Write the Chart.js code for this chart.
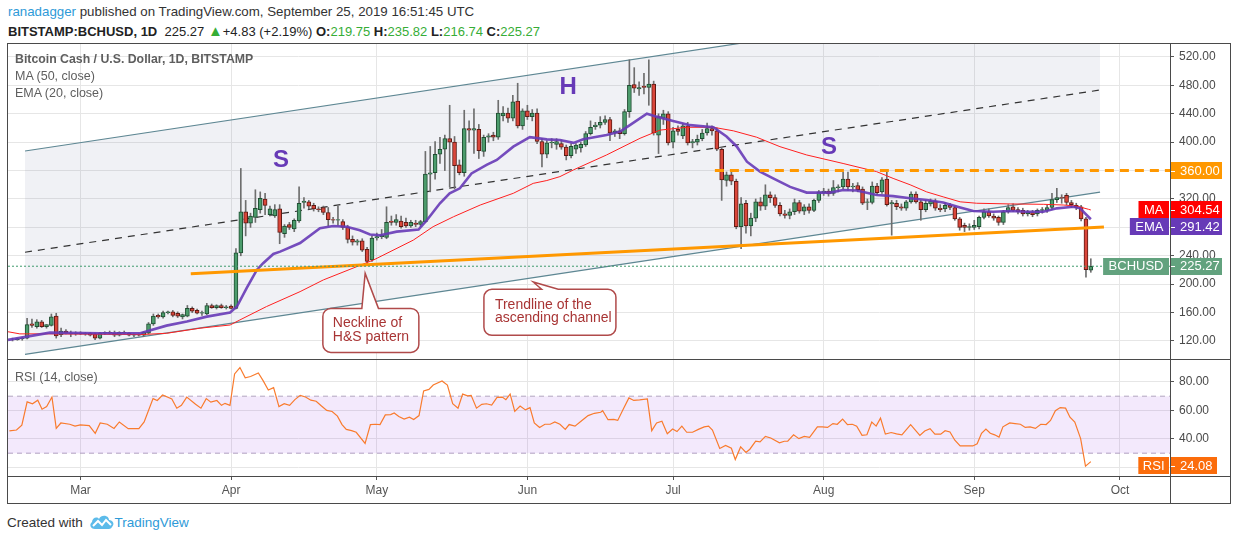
<!DOCTYPE html>
<html><head><meta charset="utf-8">
<script src="https://cdn.jsdelivr.net/npm/chart.js@4.4.1/dist/chart.umd.min.js"></script>
<style>
html,body{margin:0;padding:0;background:#fff;width:1234px;height:540px;overflow:hidden;font-family:"Liberation Sans",Arial,sans-serif;}
#wrap{position:relative;width:1234px;height:540px;}
.t{position:absolute;white-space:nowrap;}
.ln{position:absolute;background:#4a4a4a;}
canvas{position:absolute;}
.g{color:#36ad36;}
</style></head>
<body><div id="wrap">
<div class="t" style="left:8px;top:4px;font-size:13.3px;color:#333;"><span style="color:#2e9ad8">ranadagger</span> published on TradingView.com, September 25, 2019 16:51:45 UTC</div>
<div class="t" id="hdr2" style="left:8px;top:22px;font-size:13px;color:#222;"></div>
<canvas id="pc" width="1222" height="315" style="left:8px;top:44px;"></canvas>
<canvas id="rc" width="1222" height="143" style="left:8px;top:360px;"></canvas>
<div class="ln" style="left:7px;top:43px;width:1224px;height:1px;"></div>
<div class="ln" style="left:7px;top:503px;width:1224px;height:1px;"></div>
<div class="ln" style="left:7px;top:43px;width:1px;height:461px;"></div>
<div class="ln" style="left:1230px;top:43px;width:1px;height:461px;"></div>
<div class="ln" style="left:1170px;top:43px;width:1px;height:461px;"></div>
<div class="ln" style="left:7px;top:359px;width:1224px;height:1px;"></div>
<div class="ln" style="left:7px;top:476px;width:1224px;height:1px;"></div>
<div class="t" style="left:15px;top:52px;font-size:12.3px;color:#5e5e5e;font-weight:bold;">Bitcoin Cash / U.S. Dollar, 1D, BITSTAMP</div>
<div class="t" style="left:15px;top:69px;font-size:12.5px;color:#5e5e5e;">MA (50, close)</div>
<div class="t" style="left:15px;top:86px;font-size:12.5px;color:#5e5e5e;">EMA (20, close)</div>
<div class="t" style="left:15px;top:370px;font-size:12.5px;color:#5e5e5e;">RSI (14, close)</div>
<div class="t" style="left:7px;top:514px;font-size:13.5px;color:#333;">Created with
<svg width="26" height="16" viewBox="0 0 26 16" style="vertical-align:-3px;margin-left:2px"><path d="M6 15 C1 15 0 10 3 8 C3 4 8 2 10 5 C12 0 20 1 20 6 C24 6 26 10 23 13 C22 15 20 15 19 15 Z" fill="#5cbbea"/><path d="M4 12 L9 7 L13 11 L17 6 L22 11" stroke="#fff" stroke-width="2" fill="none"/></svg><span style="color:#2e9ad8">TradingView</span></div>
</div>
<script>
// ---------- DATA ----------
const startDate = '2019-02-15';
const opens = [122,122,123,124,144,140,147,140,142,155,129,134,131,130,131,130,131,130,124,131,
132,131,128,132,131,128,129,128,131,144,156,154,160,161,159,154,155,166,163,159,
158,170,167,170,167,169,166,244,302,286,294,305,320,298,296,306,271,284,278,289,
315,316,311,306,308,301,291,290,288,280,263,259,261,249,234,265,267,266,289,287,
289,287,282,286,284,288,355,357,383,390,405,400,368,357,419,417,418,387,407,410,
407,437,441,434,458,423,444,436,441,401,383,399,397,398,393,381,390,392,396,412,
422,424,428,432,413,416,412,443,481,475,479,477,482,410,434,440,400,418,409,423,
399,400,405,413,419,416,390,346,354,345,281,314,282,293,316,310,326,322,311,299,
297,302,315,303,309,304,318,329,331,328,336,337,348,337,339,334,315,315,338,330,
348,313,314,309,307,316,327,316,305,313,317,307,306,311,308,292,283,280,280,281,
294,302,296,294,287,302,309,305,304,299,301,299,304,304,308,319,322,325,315,311,
309,292,219.75];
const highs = [124,124,125,152,151,150,149,143,158,159,138,136,134,133,133,132,132,131,132,133,
134,134,133,134,132,130,130,133,146,158,158,162,162,163,161,158,170,168,165,162,
173,172,171,172,170,171,250,363,318,300,333,330,328,310,312,312,284,287,292,337,
322,318,314,309,310,308,294,310,291,283,268,263,264,252,268,272,277,309,296,298,
296,293,290,290,290,387,394,401,407,410,452,408,375,445,430,447,425,410,412,414,
459,450,448,466,483,447,452,446,447,405,402,405,405,403,396,398,398,400,415,430,
428,436,437,435,418,420,446,516,505,485,497,516,486,440,445,443,421,423,426,428,
404,410,418,427,423,420,392,358,360,348,322,318,300,320,322,340,330,326,315,304,
306,320,318,312,313,320,332,335,334,346,340,358,358,342,343,337,320,344,342,350,
358,318,318,313,318,330,330,318,318,320,320,312,315,314,310,294,286,285,290,296,
306,306,299,296,304,312,313,308,307,304,304,306,308,311,328,335,326,328,318,314,
311,294,235.82];
const lows = [120,121,121,123,139,138,139,138,141,124,126,130,126,128,129,128,127,122,123,129,
130,126,127,130,127,126,127,126,130,142,152,152,158,154,153,151,154,160,158,156,
157,166,165,166,165,165,165,240,268,280,287,300,298,296,294,257,266,277,274,287,
307,306,303,302,298,282,286,283,277,258,255,255,246,229,232,262,264,264,283,283,
279,280,280,281,281,287,330,348,370,360,337,334,354,352,400,384,377,380,400,402,
404,430,428,430,420,418,432,430,398,365,378,392,390,390,375,378,384,386,394,410,
418,420,425,402,408,405,410,435,470,466,468,452,410,384,425,396,392,410,405,396,
392,396,402,410,410,388,318,338,340,278,250,272,268,288,304,305,315,308,296,293,
292,298,300,298,300,302,315,325,324,325,330,334,332,330,330,312,305,313,326,328,
310,269,305,304,304,314,314,290,302,310,304,302,302,305,290,276,274,276,277,278,
292,294,290,283,284,300,302,299,296,296,295,296,300,301,305,315,314,312,308,305,
289,210,216.74];
const closes = [122,123,124,143,142,147,140,143,154,127,134,131,130,131,130,131,128,124,131,132,
131,128,132,131,128,129,128,132,144,155,154,160,161,156,155,157,166,162,159,160,
170,167,170,167,168,166,244,302,286,296,307,321,311,306,305,273,282,280,290,314,
317,310,306,305,301,291,290,291,280,263,259,261,248,232,265,267,269,287,287,291,
281,282,287,284,288,355,357,383,390,405,400,367,357,419,417,419,388,407,409,407,
441,441,434,457,423,444,436,441,401,383,399,400,401,393,381,394,396,397,412,421,
424,428,432,413,416,412,443,480,476,477,477,482,413,436,440,399,416,415,423,399,
401,404,413,419,416,390,347,354,345,281,313,282,293,316,310,326,322,311,299,297,
302,315,303,309,304,318,330,331,327,336,337,348,337,338,333,314,316,338,329,347,
312,315,309,307,316,327,316,305,314,317,307,305,311,308,292,280,280,281,283,294,
302,296,293,287,302,308,304,302,299,302,298,304,305,308,319,322,321,315,312,308,
292,220.44,225.27];

// MA(50) and EMA(20) (x = day index from first candle)
const maX = [-0.93,1.5,7.7,26.3,31.7,38.6,44.8,46.8,52.3,59.2,64,74.3,82.5,86.6,90.8,96.3,103.1,107.2,110,112.7,
115.5,122.3,129.2,133.3,138.8,144.3,148.4,153.2,158,163.5,171,177.9,181.3,184.8,188.2,191.6,195.1,198.5,205.4,212.2,
216.3,219.1,221.5,222];
const maY = [133,130,130,129,130.8,138,142.5,149.6,168.5,189.5,206,234,262,281,295,311.5,328,342,346,351.5,
361,382,405.5,417,421,421,416,407,393.7,382,370,358.5,349,340,330,323,316,314,313,312.5,
311.5,310,305.5,304.54];
const emaX = [-0.93,7.7,18,26.3,31.7,35.9,40,44.8,46.2,48.2,50.3,51.6,53.7,55.1,59.2,63.3,66,68.8,71.5,73.6,
75.7,79.1,83.6,85.3,88,90,92.1,94.5,97.6,99.7,103.1,106.5,110,112.7,115.5,117.5,122.3,125.1,127.1,130.6,
132.6,136,139.5,144.3,147,149.1,151.2,153.9,156.6,160.1,163.5,168.3,171,173.8,177.9,181.3,184.8,188.2,191.6,195.1,
197.8,201.9,205.4,208.8,212.2,215,218.4,219.8,222];
const emaY = [121.5,131.7,130.8,130.8,141.6,147.3,154.3,160,168.5,194.5,220,229.5,242.5,245.8,258,278.7,282,281,276,270,
269,274,277,290,314,328,335,356,368,375,393.7,407,404,403,399,404,410,415,424,440,
436,430,424,421,408,394,372.5,358.5,349,337,329,329,332.7,332,325.6,324,321,318.6,315,308,
303,302,303,302,302,306.8,309,306.8,291.42];

// RSI(14)
const rsiX = [-0.64,0.82,1.92,3.01,4.11,5.2,6.08,7.03,8.12,9,9.95,11.77,12.87,13.96,15.79,17.03,18.05,19.51,20.9,21.99,
23.82,26.01,27.1,28.93,29.8,30.9,32.8,33.82,34.77,35.87,37.69,38.79,39.88,40.83,42.07,43.02,43.75,44.77,45.72,46.82,
47.91,49.01,50.61,51.56,52.66,53.75,54.85,55.94,57.04,58.13,59.23,60.32,61.42,62.51,63.61,64.7,65.8,66.89,67.84,68.72,
69.81,70.76,72.59,73.68,74.71,75.66,76.75,77.85,78.58,79.53,80.62,81.71,82.59,83.69,84.64,85.73,86.61,88.43,89.53,90.62,
91.72,92.67,93.69,94.42,95.52,96.61,97.56,98.65,99.75,100.84,101.57,102.45,103.4,104.5,105.59,106.54,107.42,108.51,109.61,110.7,
111.65,112.7,113.8,114.6,115.8,117.1,118.5,119.8,121.1,121.5,122.6,123.8,124.6,125.8,126.9,127.9,129.1,130.7,131.6,132.6,
133.7,134.8,135.9,136.8,137.8,138.8,140,141.2,142.4,143.3,144.1,145.6,146.8,148,148.8,149.9,151,151.8,153,153.9,
155,156.1,157.9,158.9,159.6,160.8,161.9,163,164.1,165.7,166.7,167.8,168.9,169.8,170.9,171.9,172.9,173.8,174.9,175.9,
176.9,177.8,178.7,179.7,180.9,182,183.1,184.9,186.8,187.8,188.9,189.9,191.1,192,193,194,195.1,196.4,197.7,198.6,
199.5,200.4,201.3,202.2,203.1,203.9,205.3,206.4,207.5,208.5,209.5,210.6,211.7,212.8,213.7,214.7,215.7,216.8,217.7,218.7,
219.9,220.9,222];
const rsiY = [45.6,46.3,49.7,66,64.7,67.2,60.9,62.7,69.4,47.4,51.2,50.3,49,49.9,49.4,44,51.2,50.3,47.4,51.9,
47.2,47.2,51.9,68.3,67,70.8,68,61.6,63.6,69.4,64.3,61.6,68.3,65.8,67,63.6,65,63.6,85.6,90.1,
82.9,83.8,86.3,81.1,74.4,76,62.7,64.7,63.6,67.6,70.6,69.4,67.2,66.5,63.1,60,59.3,56,50.1,46.7,
45.8,44.7,36.9,50.1,50.3,50.1,56.9,57.1,58.2,55.7,53.9,55.3,53.7,56.4,73.7,74.8,77.8,80.7,77.8,64.7,
61.6,71.5,70.3,70.6,61.6,64.3,64.7,63.8,69.2,69.4,67.6,71.5,59.3,63.1,60.4,62,51.2,48.1,50.3,50.3,
51.9,50.3,46.7,50.1,49,52.6,56.4,58,58.7,59.8,53.5,53.7,53,61.3,68.8,67,67.4,68.1,45.8,51.2,
52.4,43.6,47,45.2,49,44.7,44.7,46.7,48.5,49,46.3,33.3,35.5,33.5,25.6,34.4,30.6,32.8,38.4,38,
41.8,40.7,37.3,38.4,38.4,42.9,40.2,41.8,41.1,48.5,48.5,48.1,50.8,50.3,53.9,50.1,50.3,49,42.5,42.9,
51.9,49,54.6,43.4,44.5,43.6,42.9,50.1,42.5,45.6,47.2,43.4,43.4,45.8,44.9,39.1,35.1,35.1,35.1,36.6,
44,47,44,42.9,41.3,48.5,51.2,50.8,50.3,48.1,48.5,47.4,50.3,50.1,53,59.8,62,61.6,55.3,51.9,
40.2,20.9,24.08];

// Axis ticks / labels
const monthTicks = [14,45,75,106,136,167,198,228];
const monthLabels = ['Mar','Apr','May','Jun','Jul','Aug','Sep','Oct'];
const priceTicks = [120,160,200,240,280,320,360,400,440,480,520];
const rsiTicks = [20,40,60,80];

// Drawn annotations (in data units: day index, price)
const channelLower = [[2.57,101],[223.9,329.7]];
const channelUpper = [[2.57,387.6],[223.9,615.6]];
const channelMid = [[2.57,245],[223.9,473.5]];
const neckline = [[36.7,214.8],[224.7,280.6]];
const resistanceLevel = 360;
const resistanceStart = 144.6;
const patternLabels = [['S',55.3,374.9],['H',114.4,477.7],['S',168.1,392]];
const calloutTips = [[72.6,215.2],[107.2,203.1]];
const calloutTexts = [['Neckline of','H&S pattern'],['Trendline of the','ascending channel']];

// ---------- LAYOUT / STYLE ----------
const FONT = '"Liberation Sans", Arial, sans-serif';
const X_MIN = -0.93, X_MAX = 238.3;
const UP = '#4c9c6c', UP_B = '#1f4d31', DN = '#d9463a', DN_B = '#5e1a14', WICK = '#6e6e6e';
const GRID = '#e6e6e6';
const N = closes.length;
const last = N - 1;
const chg = closes[last] - closes[last-1];

document.getElementById('hdr2').innerHTML =
  '<b>BITSTAMP:BCHUSD, 1D</b>&nbsp; ' + closes[last].toFixed(2) +
  ' <span class="g" style="font-size:15px">&#9650;</span>+' + chg.toFixed(2) + ' (+' + (chg/closes[last-1]*100).toFixed(2) + '%)' +
  ' <b>O:</b><span class="g">' + opens[last].toFixed(2) + '</span>' +
  ' <b>H:</b><span class="g">' + highs[last].toFixed(2) + '</span>' +
  ' <b>L:</b><span class="g">' + lows[last].toFixed(2) + '</span>' +
  ' <b>C:</b><span class="g">' + closes[last].toFixed(2) + '</span>';

const pts = (xs, ys) => xs.map((x,k)=>({x:x, y:ys[k]}));
const pair = a => a.map(p=>({x:p[0], y:p[1]}));
const idx = closes.map((_,k)=>k);
const isUp = k => closes[k] >= opens[k];

function drawAxisTags(chart, items){
  const ctx = chart.ctx, ys = chart.scales.y, ca = chart.chartArea, H = 17;
  const arr = items.map(it=>Object.assign({}, it, {py: ys.getPixelForValue(it.value)})).sort((a,b)=>a.py-b.py);
  for (let k=1;k<arr.length;k++) if (arr[k].py - arr[k-1].py < H) arr[k].py = arr[k-1].py + H;
  ctx.save();
  ctx.font = '13px ' + FONT; ctx.textBaseline = 'middle';
  arr.forEach(it=>{
    const top = Math.round(it.py - H/2);
    ctx.fillStyle = it.color; ctx.fillRect(ca.right+1, top, 51, H);
    ctx.fillStyle = '#fff'; ctx.fillRect(ca.right+1, Math.round(it.py), 4, 1);
    ctx.textAlign = 'left'; ctx.fillText(it.text, ca.right+10, it.py+0.5);
    if (it.tag){
      const w = ctx.measureText(it.tag).width + 12;
      ctx.fillStyle = it.color; ctx.fillRect(ca.right - w, top, w - 1, H);
      ctx.fillStyle = '#fff'; ctx.textAlign = 'center'; ctx.fillText(it.tag, ca.right - w/2 - 0.5, it.py+0.5);
    }
  });
  ctx.restore();
}

const pricePlugin = {
  id: 'priceExtras',
  afterDatasetsDraw(chart){
    const ctx = chart.ctx, xs = chart.scales.x, ys = chart.scales.y;
    ctx.save();
    ctx.font = 'bold 24px ' + FONT; ctx.fillStyle = '#673ab7'; ctx.textAlign='center'; ctx.textBaseline='middle';
    patternLabels.forEach(l=>ctx.fillText(l[0], xs.getPixelForValue(l[1]), ys.getPixelForValue(l[2])));
    const boxes = [{dx:-42.3, dy:35, w:96, h:44, b1:-3.3, b2:13.3, tx:10, ty:[14.5,28.5]},
                   {dx:-49.3, dy:7.3, w:132, h:46, b1:8.4, b2:25, tx:11, ty:[15.5,28.5]}];
    calloutTips.forEach((tp,k)=>{
      const b = boxes[k];
      const tx = xs.getPixelForValue(tp[0]), ty = ys.getPixelForValue(tp[1]);
      const bx = tx + b.dx, by = ty + b.dy, r = 8;
      ctx.beginPath();
      ctx.moveTo(bx + r, by); ctx.lineTo(tx + b.b1, by); ctx.lineTo(tx, ty); ctx.lineTo(tx + b.b2, by);
      ctx.arcTo(bx+b.w, by, bx+b.w, by+b.h, r); ctx.arcTo(bx+b.w, by+b.h, bx, by+b.h, r);
      ctx.arcTo(bx, by+b.h, bx, by, r); ctx.arcTo(bx, by, bx+b.w, by, r); ctx.closePath();
      ctx.fillStyle = '#fff'; ctx.fill();
      ctx.strokeStyle = '#b04a4a'; ctx.lineWidth = 1.5; ctx.stroke();
      ctx.fillStyle = '#a83434'; ctx.font = '14px ' + FONT; ctx.textAlign='left'; ctx.textBaseline='middle';
      calloutTexts[k].forEach((s,j)=>ctx.fillText(s, bx + b.tx, by + b.ty[j]));
    });
    ctx.restore();
  },
  afterDraw(chart){
    drawAxisTags(chart, [
      {value: resistanceLevel, text: resistanceLevel.toFixed(2), color:'#ff9800'},
      {value: maY[maY.length-1], text: maY[maY.length-1].toFixed(2), tag:'MA', color:'#ff0000'},
      {value: emaY[emaY.length-1], text: emaY[emaY.length-1].toFixed(2), tag:'EMA', color:'#673ab7'},
      {value: closes[last], text: closes[last].toFixed(2), tag:'BCHUSD', color:'#62a27e'}
    ]);
  }
};

const lineDS = (data, color, width, extra) => Object.assign({type:'line', data, borderColor:color, borderWidth:width,
  pointRadius:0, pointHoverRadius:0, fill:false, tension:0}, extra||{});

new Chart(document.getElementById('pc'), {
  type: 'bar',
  data: { datasets: [
    lineDS(pair(channelLower), '#5e8793', 1.2, {order:19}),
    lineDS(pair(channelUpper), '#5e8793', 1.2, {order:20, fill:'-1', backgroundColor:'rgba(120,130,160,0.11)'}),
    lineDS(pair(channelMid), '#333', 1.2, {order:18, borderDash:[7,6]}),
    {type:'bar', data: idx.map(k=>({x:k, y:[lows[k], highs[k]]})), backgroundColor: WICK, barThickness:1, grouped:false, order:6},
    {type:'bar', data: idx.map(k=>({x:k, y:[opens[k], closes[k]]})),
      backgroundColor: c => isUp(c.dataIndex) ? UP : DN,
      borderColor: c => isUp(c.dataIndex) ? UP_B : DN_B,
      borderWidth:1, borderSkipped:false, barThickness:4, grouped:false, order:5},
    lineDS(pts(maX, maY), '#ff2020', 1, {order:3}),
    lineDS(pts(emaX, emaY), 'rgba(103,58,183,0.9)', 2.6, {order:2}),
    lineDS(pair(neckline), '#ff9800', 3, {order:1}),
    lineDS([{x:resistanceStart,y:resistanceLevel},{x:X_MAX,y:resistanceLevel}], '#ff9800', 3, {order:1, borderDash:[9,6]}),
    lineDS([{x:X_MIN,y:closes[last]},{x:X_MAX,y:closes[last]}], '#3f9a6c', 1, {order:0, borderDash:[2,2]})
  ]},
  options: {
    responsive:false, animation:false, events:[],
    layout:{padding:0},
    plugins:{legend:{display:false}, tooltip:{enabled:false}},
    scales:{
      x:{type:'linear', min:X_MIN, max:X_MAX, offset:false,
        grid:{color:GRID, drawTicks:false, offset:false}, border:{display:false}, ticks:{display:false},
        afterBuildTicks: s => { s.ticks = monthTicks.map(v=>({value:v})); },
        afterFit: s => { s.height = 0; s.paddingLeft = 0; s.paddingRight = 0; }},
      y:{position:'right', min:94.6, max:538.3,
        grid:{color:GRID, drawTicks:true, tickLength:4, tickColor:'#555'}, border:{display:false},
        ticks:{padding:5, color:'#4a4a4a', font:{size:12, family:FONT}, callback: v => Number(v).toFixed(2)},
        afterBuildTicks: s => { s.ticks = priceTicks.map(v=>({value:v})); },
        afterFit: s => { s.width = 60; s.paddingTop = 0; s.paddingBottom = 0; }}
    }
  },
  plugins:[pricePlugin]
});

const rsiPlugin = {
  id:'rsiExtras',
  afterDraw(chart){
    const ctx = chart.ctx, ys = chart.scales.y, ca = chart.chartArea, H = 17;
    const v = rsiY[rsiY.length-1], py = ys.getPixelForValue(v) + 4;
    ctx.save();
    ctx.font = '13px ' + FONT; ctx.textBaseline='middle';
    const top = Math.round(py - H/2);
    ctx.fillStyle = '#fb6c0b'; ctx.fillRect(ca.right+1, top, 46, H);
    ctx.fillStyle = '#fff'; ctx.fillRect(ca.right+1, Math.round(py), 4, 1);
    ctx.textAlign='left'; ctx.fillText(v.toFixed(2), ca.right+10, py+0.5);
    const w = ctx.measureText('RSI').width + 10;
    ctx.fillStyle = '#fb6c0b'; ctx.fillRect(ca.right - w, top, w - 1, H);
    ctx.fillStyle = '#fff'; ctx.textAlign='center'; ctx.fillText('RSI', ca.right - w/2 - 0.5, py+0.5);
    ctx.restore();
  }
};

new Chart(document.getElementById('rc'), {
  type:'line',
  data:{datasets:[
    lineDS([{x:X_MIN,y:30},{x:X_MAX,y:30}], '#b3a6c0', 1, {order:3, borderDash:[5,4]}),
    lineDS([{x:X_MIN,y:70},{x:X_MAX,y:70}], '#b3a6c0', 1, {order:2, borderDash:[5,4], fill:'-1', backgroundColor:'rgba(149,55,230,0.11)'}),
    lineDS(pts(rsiX, rsiY), '#f97b2d', 1.2, {order:1})
  ]},
  options:{
    responsive:false, animation:false, events:[],
    layout:{padding:0},
    plugins:{legend:{display:false}, tooltip:{enabled:false}},
    scales:{
      x:{type:'linear', min:X_MIN, max:X_MAX, offset:false,
        grid:{color:GRID, drawTicks:true, tickLength:4, tickColor:'#555'}, border:{display:false},
        ticks:{padding:3, color:'#555', font:{size:12, family:FONT}, maxRotation:0, autoSkip:false,
          callback: v => monthLabels[monthTicks.indexOf(v)] || ''},
        afterBuildTicks: s => { s.ticks = monthTicks.map(v=>({value:v})); },
        afterFit: s => { s.height = 27; s.paddingLeft = 0; s.paddingRight = 0; }},
      y:{position:'right', min:14, max:95.4,
        grid:{color:GRID, drawTicks:true, tickLength:4, tickColor:'#555'}, border:{display:false},
        ticks:{padding:5, color:'#4a4a4a', font:{size:12, family:FONT}, callback: v => Number(v).toFixed(2)},
        afterBuildTicks: s => { s.ticks = rsiTicks.map(v=>({value:v})); },
        afterFit: s => { s.width = 60; s.paddingTop = 0; s.paddingBottom = 0; }}
    }
  },
  plugins:[rsiPlugin]
});
</script>
</body></html>
